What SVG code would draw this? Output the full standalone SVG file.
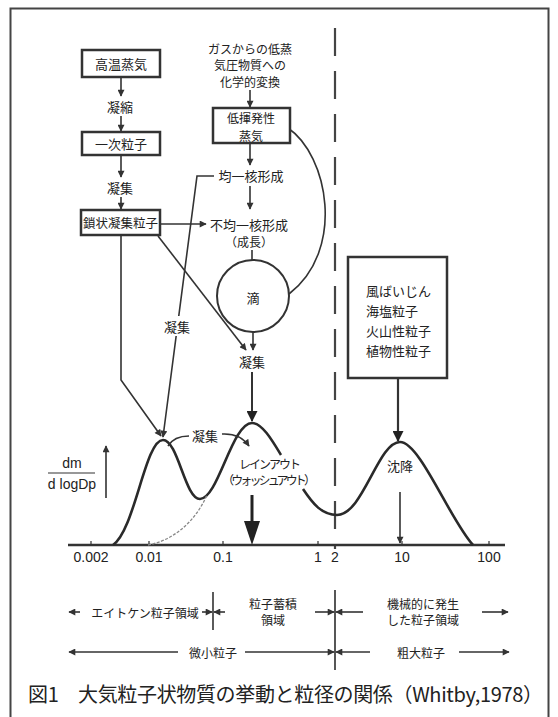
<svg xmlns="http://www.w3.org/2000/svg" width="558" height="717" viewBox="0 0 558 717">
<defs>
<style>
.t{font-family:"Noto Sans CJK JP","Noto Sans",sans-serif;font-size:13px;fill:#222;text-anchor:middle;dominant-baseline:central}
.s{font-family:"Liberation Sans","Noto Sans",sans-serif;font-size:14px;fill:#222;text-anchor:middle;dominant-baseline:central}
.box{fill:#fff;stroke:#333;stroke-width:2.5}
.ln{fill:none;stroke:#333;stroke-width:1.6}
.cv{fill:none;stroke:#2a2a2a;stroke-width:2.6}
.bg{fill:#fff}
</style>
<marker id="a" viewBox="0 0 10 10" refX="9" refY="5" markerWidth="8" markerHeight="7" markerUnits="userSpaceOnUse" orient="auto"><path d="M0,0L10,5L0,10z" fill="#333"/></marker>
<marker id="aL" viewBox="0 0 10 10" refX="9" refY="5" markerWidth="12" markerHeight="11" markerUnits="userSpaceOnUse" orient="auto"><path d="M0,0L10,5L0,10z" fill="#222"/></marker>
</defs>
<rect width="558" height="717" fill="#fff"/>
<rect x="10.5" y="8.5" width="538" height="716" fill="none" stroke="#444" stroke-width="2"/>

<g id="boundary" fill="none" stroke="#444" stroke-width="2.2">
<path d="M335,28V549" stroke-dasharray="28 15"/>
<path d="M335,590V670" stroke-width="1.8"/>
</g>

<g id="connectors" class="ln">
<path d="M121,77V96" marker-end="url(#a)"/>
<path d="M121,116V131" marker-end="url(#a)"/>
<path d="M121,155V177" marker-end="url(#a)"/>
<path d="M121,197V209" marker-end="url(#a)"/>
<path d="M250,90V107" marker-end="url(#a)"/>
<path d="M250,143V165" marker-end="url(#a)"/>
<path d="M250,186V209" marker-end="url(#a)"/>
<path d="M160,224H206" marker-end="url(#a)"/>
<path d="M252,250V260"/>
<path d="M288,128C328,155 346,250 289,294"/>
<path d="M253,332V350" marker-end="url(#a)"/>
<path d="M252,372V421" marker-end="url(#aL)" stroke-width="2"/>
<path d="M214,176H197L163,437" marker-end="url(#a)"/>
<path d="M121,235V380L161,436" marker-end="url(#a)"/>
<path d="M158,236L246,350" marker-end="url(#a)"/>
<path d="M398,378V441" marker-end="url(#aL)" stroke-width="2.2"/>
</g>

<g id="n-kouon"><rect class="box" x="82" y="50" width="78" height="27"/><text class="t" x="121" y="63.5">高温蒸気</text></g>
<g id="l-gyoshuku"><text class="t" x="120" y="106">凝縮</text></g>
<g id="n-ichiji"><rect class="box" x="82" y="132" width="78" height="23"/><text class="t" x="121" y="143.5">一次粒子</text></g>
<g id="l-gyoshu1"><text class="t" x="120" y="187">凝集</text></g>
<g id="n-sajou"><rect class="box" x="81" y="210" width="79" height="25"/><text class="t" x="120.5" y="222.5" style="font-size:12.5px">鎖状凝集粒子</text></g>
<g id="n-gas"><text class="t" x="250" y="48" style="font-size:12px">ガスからの低蒸</text><text class="t" x="250" y="64.5" style="font-size:12px">気圧物質への</text><text class="t" x="250" y="81" style="font-size:12px">化学的変換</text></g>
<g id="n-teiki"><rect class="box" x="213" y="108" width="77" height="35"/><text class="t" x="251" y="117.5" style="font-size:12px">低揮発性</text><text class="t" x="251" y="135" style="font-size:12px">蒸気</text></g>
<g id="n-kin"><text class="t" x="251" y="175">均一核形成</text></g>
<g id="n-fukin"><text class="t" x="249" y="224">不均一核形成</text><text class="t" x="249" y="241" style="font-size:12px">（成長）</text></g>
<g id="n-teki"><circle cx="253" cy="296" r="36" fill="#fff" stroke="#333" stroke-width="2"/><text class="t" x="253" y="297">滴</text></g>
<g id="l-gyoshu2"><rect class="bg" x="163" y="316" width="28" height="20"/><text class="t" x="177" y="326">凝集</text></g>
<g id="l-gyoshu3"><text class="t" x="252" y="361">凝集</text></g>
<g id="n-kaze"><rect class="box" x="348" y="257" width="99" height="121"/>
<text class="t" x="366" y="290" style="text-anchor:start">風ばいじん</text>
<text class="t" x="366" y="310" style="text-anchor:start">海塩粒子</text>
<text class="t" x="366" y="330" style="text-anchor:start">火山性粒子</text>
<text class="t" x="366" y="350" style="text-anchor:start">植物性粒子</text></g>

<g id="chart">
<path d="M68,545H505" stroke="#333" stroke-width="2.5" fill="none"/>
<path d="M91,545v-4M149,545v-4M223,545v-4M318,545v-4M402,545v-4M489,545v-4" stroke="#333" stroke-width="1.2"/>
<path class="cv" d="M113,545C135,530 145,440 163,440C178,440 185,499 200,499C218,499 232,423 252,423C262,423 272,440 281,455"/>
<path class="cv" d="M303,489C313,504 322,515 337,515C363,515 378,442 400,442C420,442 450,520 473,545"/>
<path d="M148,545C175,540 196,520 207,495" fill="none" stroke="#888" stroke-width="1.3" stroke-dasharray="3 1.5"/>
<path d="M252,495V524" stroke="#222" stroke-width="3"/>
<path d="M244,521H260L252,545z" fill="#222"/>
<path class="ln" d="M400,492V543" marker-end="url(#a)"/>
<path class="ln" d="M106,498V446" marker-end="url(#a)" stroke-width="1.3"/>
<path class="ln" d="M168,446Q174,436 189,436"/>
<path class="ln" d="M222,434Q240,433 249,446" marker-end="url(#a)"/>
<text class="t" x="205" y="435">凝集</text>
<text class="t" x="270" y="463" style="font-size:12px" textLength="62">レインアウト</text>
<text class="t" x="269" y="479" style="font-size:12px" textLength="94">（ウォッシュアウト）</text>
<text class="t" x="400" y="465">沈降</text>
<text class="s" x="72" y="463">dm</text>
<path d="M48,473H95" stroke="#333" stroke-width="1.2"/>
<text class="s" x="72" y="484">d logDp</text>
<text class="s" x="91" y="557">0.002</text>
<text class="s" x="149" y="557">0.01</text>
<text class="s" x="223" y="557">0.1</text>
<text class="s" x="318" y="557">1</text>
<text class="s" x="335" y="557">2</text>
<text class="s" x="402" y="557">10</text>
<text class="s" x="489" y="557">100</text>
</g>

<g id="ranges" class="ln">
<path d="M213,592V630"/>
<path d="M80,612H69" marker-end="url(#a)"/>
<path d="M202,612H212" marker-end="url(#a)"/>
<path d="M225,612H214" marker-end="url(#a)"/>
<path d="M315,612H334" marker-end="url(#a)"/>
<path d="M363,612H336" marker-end="url(#a)"/>
<path d="M482,612H508" marker-end="url(#a)"/>
<path d="M178,652H69" marker-end="url(#a)"/>
<path d="M245,652H334" marker-end="url(#a)"/>
<path d="M370,652H336" marker-end="url(#a)"/>
<path d="M459,652H509" marker-end="url(#a)"/>
</g>
<g id="range-labels">
<text class="t" x="145" y="612" style="font-size:12px">エイトケン粒子領域</text>
<text class="t" x="273" y="603" style="font-size:12px">粒子蓄積</text>
<text class="t" x="273" y="619" style="font-size:12px">領域</text>
<text class="t" x="423" y="603" style="font-size:12px">機械的に発生</text>
<text class="t" x="423" y="619" style="font-size:12px">した粒子領域</text>
<text class="t" x="213" y="652" style="font-size:12px">微小粒子</text>
<text class="t" x="421" y="652" style="font-size:12px">粗大粒子</text>
</g>
<g id="caption">
<text class="t" x="28" y="693" style="font-size:20px;text-anchor:start" textLength="515">図1　大気粒子状物質の挙動と粒径の関係（Whitby,1978）</text>
</g>
</svg>
